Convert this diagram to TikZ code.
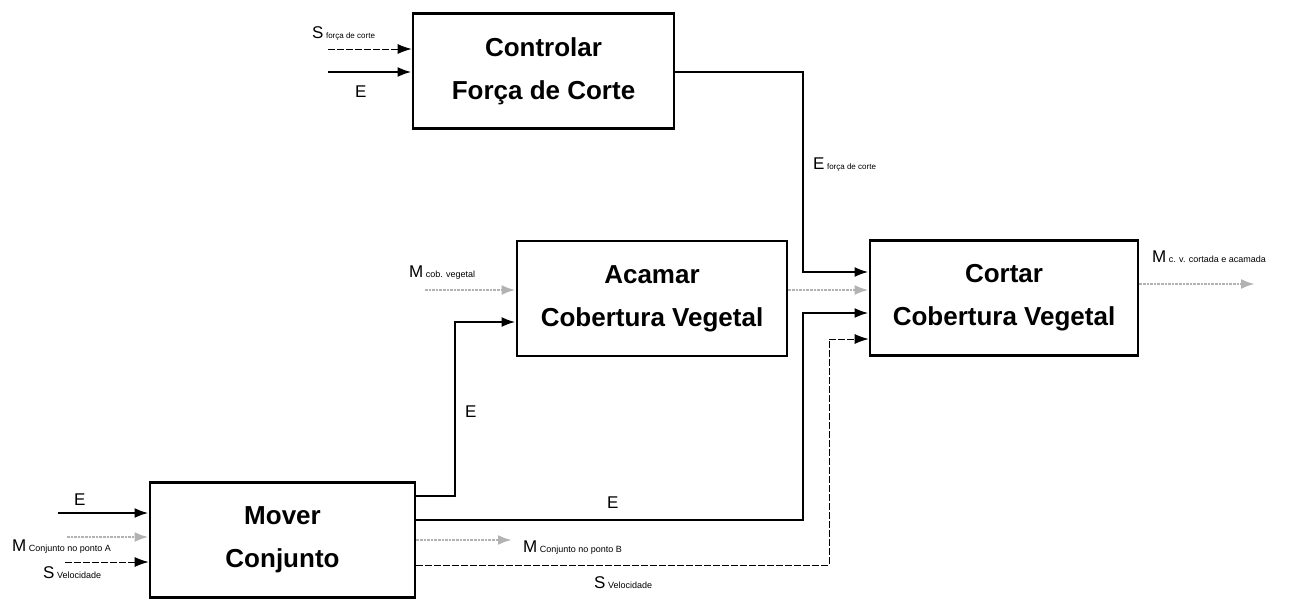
\documentclass[tikz,border=0pt]{standalone}
\usepackage{fontspec}
\setmainfont{Liberation Sans}
\usetikzlibrary{arrows.meta}
\newcommand\lblsub[1]{{\fontsize{9}{9}\selectfont\ #1}}

\begin{document}
\begin{tikzpicture}[x=1pt, y=-1pt,
  >={Latex[length=14pt, width=10pt]},
  func/.style={draw, line width=2.8pt, inner sep=0pt, align=center,
    minimum height=115pt, font=\fontsize{26}{43}\selectfont\bfseries},
  energia/.style={->, line width=2.5pt},
  sinal/.style={->, line width=0.9pt, dash pattern=on 7pt off 2pt},
  materia/.style={->, line width=2.6pt, gray!60, densely dotted},
  lbl/.style={inner sep=0pt, anchor=base west, font=\fontsize{17}{17}\selectfont}]
  \useasboundingbox (0,0) rectangle (1300,599);
  % funcoes
  \node[func, minimum width=261pt] (ctrl) at (543.5,71) {Controlar\\Força de Corte};
  \node[func, minimum width=270pt] (acamar) at (652,298.5) {Acamar\\Cobertura Vegetal};
  \node[func, minimum width=268pt] (cortar) at (1004,298) {Cortar\\Cobertura Vegetal};
  \node[func, minimum width=265pt] (mover) at (282.5,540) {Mover\\Conjunto};
  % pontos livres e dobras
  \coordinate (sfc) at (328,49);
  \coordinate (efc) at (328,72);
  \coordinate (fc1) at (803,72);
  \coordinate (fc2) at (803,272);
  \coordinate (mcob) at (425,290);
  \coordinate (ea1) at (455,496);
  \coordinate (ea2) at (455,322);
  \coordinate (ec1) at (803,520);
  \coordinate (ec2) at (803,313);
  \coordinate (sv1) at (829,565);
  \coordinate (sv2) at (829,339);
  \coordinate (mb) at (512,540);
  \coordinate (mout) at (1255,284);
  \coordinate (emv) at (58,513);
  \coordinate (mma) at (67,537);
  \coordinate (smv) at (65,562);
  % Controlar Forca de Corte
  \draw[sinal] (sfc) -- (sfc -| ctrl.west);
  \draw[energia] (efc) -- (efc -| ctrl.west);
  \draw[energia] (fc1 -| ctrl.east) -- (fc1) -- (fc2) -- (fc2 -| cortar.west);
  \node[lbl] (l1) at (312,39) {S\lblsub{\fontsize{8}{8}\selectfont força de corte}};
  \node[lbl] (l2) at (355,98) {E};
  \node[lbl] (l3) at (813,169) {E\lblsub{\fontsize{8}{8}\selectfont força de corte}};
  % Acamar
  \draw[materia] (mcob) -- (mcob -| acamar.west);
  \draw[materia] (mcob -| acamar.east) -- (mcob -| cortar.west);
  \node[lbl] (l4) at (409,277) {M\lblsub{cob. vegetal}};
  % Mover Conjunto
  \draw[energia] (emv) -- (emv -| mover.west);
  \draw[materia] (mma) -- (mma -| mover.west);
  \draw[sinal] (smv) -- (smv -| mover.west);
  \node[lbl] (l5) at (74,505) {E};
  \node[lbl] (l6) at (12,551) {M\lblsub{Conjunto no ponto A}};
  \node[lbl] (l7) at (43,578) {S\lblsub{Velocidade}};
  \draw[energia] (ea1 -| mover.east) -- (ea1) -- (ea2) -- (ea2 -| acamar.west);
  \draw[energia] (ec1 -| mover.east) -- (ec1) -- (ec2) -- (ec2 -| cortar.west);
  \draw[materia] (mb -| mover.east) -- (mb);
  \draw[sinal] (sv1 -| mover.east) -- (sv1) -- (sv2) -- (sv2 -| cortar.west);
  \node[lbl] (l8) at (465,417) {E};
  \node[lbl] (l9) at (607,508) {E};
  \node[lbl] (l10) at (523,552) {M\lblsub{Conjunto no ponto B}};
  \node[lbl] (l11) at (594,588) {S\lblsub{Velocidade}};
  % saida
  \draw[materia] (mout -| cortar.east) -- (mout);
  \node[lbl] (l12) at (1152,262) {M\lblsub{c. v. cortada e acamada}};
\end{tikzpicture}
\end{document}
